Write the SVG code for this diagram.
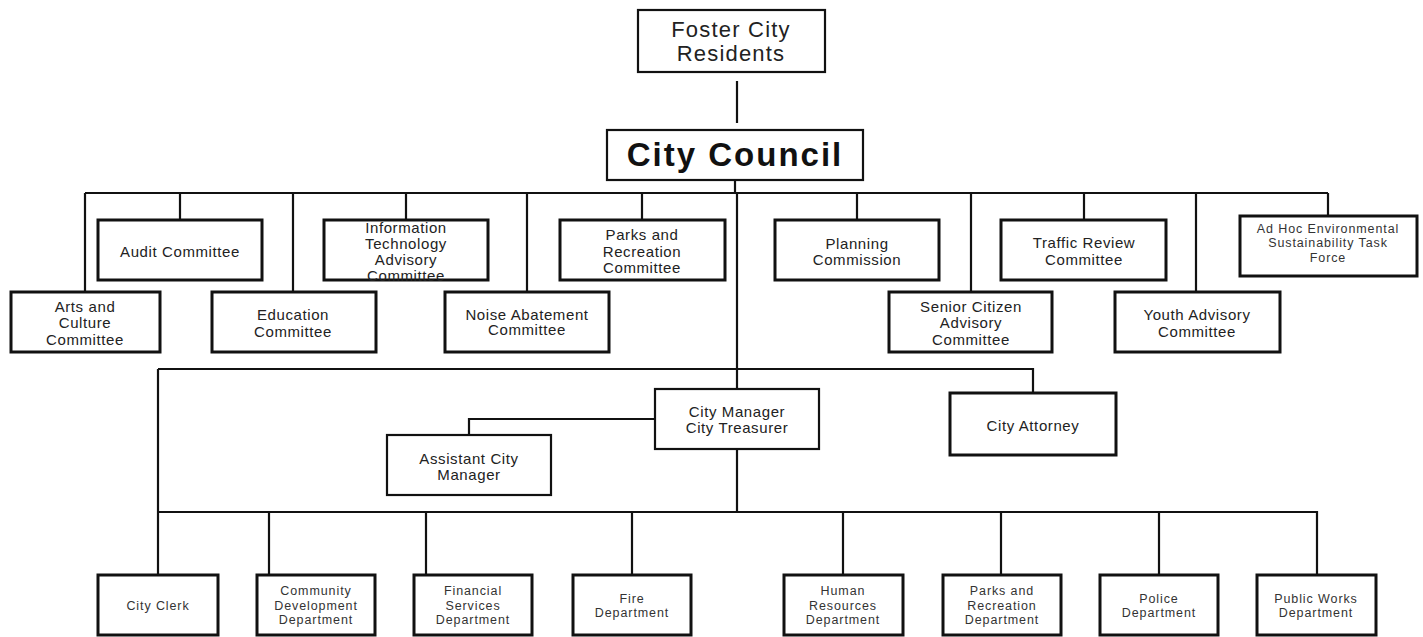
<svg xmlns="http://www.w3.org/2000/svg" width="1423" height="637" viewBox="0 0 1423 637">
<style>
.b{fill:#fff;stroke:#111;stroke-width:3}
.bt{fill:#fff;stroke:#111;stroke-width:2.2}
.c{fill:none;stroke:#111;stroke-width:2.2}
text{font-family:"Liberation Sans",Arial,sans-serif;text-anchor:middle;dominant-baseline:central}
.t{font-size:15px;letter-spacing:0.6px;fill:#222}
.s{font-size:12.5px;letter-spacing:0.9px;fill:#333}
.top{font-size:22px;letter-spacing:1.2px;fill:#222}
.cc{font-size:33px;font-weight:bold;letter-spacing:2px;fill:#111}
</style>
<rect width="1423" height="637" fill="#fff"/>
<g id="connectors">
<path class="c" d="M737 81V123"/>
<path class="c" d="M735 180V193"/>
<path class="c" d="M85 193H1328"/>
<path class="c" d="M180 193V219M406 193V219M642 193V219M857 193V219M1084 193V219M1328 193V215"/>
<path class="c" d="M85 193V291M293 193V291M527 193V291M971 193V291M1196 193V291"/>
<path class="c" d="M737 193V388"/>
<path class="c" d="M158 369H1033V392"/>
<path class="c" d="M654 419H469V434"/>
<path class="c" d="M737 450V512"/>
<path class="c" d="M158 369V574"/>
<path class="c" d="M158 512H1317V574"/>
<path class="c" d="M269 512V574M426 512V574M632 512V574M843 512V574M1001 512V574M1159 512V574"/>
</g>
<g id="residents"><rect class="bt" x="638" y="10" width="187" height="62"/><text class="top" x="731" y="29">Foster City</text><text class="top" x="731" y="53">Residents</text></g>
<g id="council"><rect class="bt" x="607" y="130" width="256" height="50"/><text class="cc" x="735" y="154">City Council</text></g>
<g id="audit"><rect class="b" x="98" y="220" width="164" height="60"/><text class="t" x="180" y="251">Audit Committee</text></g>
<g id="it"><rect class="b" x="324" y="220" width="164" height="60"/><text class="t" x="406" y="227">Information</text><text class="t" x="406" y="243">Technology</text><text class="t" x="406" y="259">Advisory</text><text class="t" x="406" y="275">Committee</text></g>
<g id="parks-committee"><rect class="b" x="560" y="220" width="165" height="60"/><text class="t" x="642" y="234">Parks and</text><text class="t" x="642" y="251">Recreation</text><text class="t" x="642" y="267">Committee</text></g>
<g id="planning"><rect class="b" x="775" y="220" width="164" height="60"/><text class="t" x="857" y="243">Planning</text><text class="t" x="857" y="259">Commission</text></g>
<g id="traffic"><rect class="b" x="1001" y="220" width="165" height="60"/><text class="t" x="1084" y="242">Traffic Review</text><text class="t" x="1084" y="259">Committee</text></g>
<g id="adhoc"><rect class="b" x="1240" y="216" width="177" height="60"/><text class="s" x="1328" y="229">Ad Hoc Environmental</text><text class="s" x="1328" y="243">Sustainability Task</text><text class="s" x="1328" y="258">Force</text></g>
<g id="arts"><rect class="b" x="11" y="292" width="149" height="60"/><text class="t" x="85" y="306">Arts and</text><text class="t" x="85" y="322">Culture</text><text class="t" x="85" y="339">Committee</text></g>
<g id="education"><rect class="b" x="212" y="292" width="164" height="60"/><text class="t" x="293" y="314">Education</text><text class="t" x="293" y="331">Committee</text></g>
<g id="noise"><rect class="b" x="445" y="292" width="164" height="60"/><text class="t" x="527" y="314">Noise Abatement</text><text class="t" x="527" y="329">Committee</text></g>
<g id="senior"><rect class="b" x="889" y="292" width="163" height="60"/><text class="t" x="971" y="306">Senior Citizen</text><text class="t" x="971" y="322">Advisory</text><text class="t" x="971" y="339">Committee</text></g>
<g id="youth"><rect class="b" x="1115" y="292" width="165" height="60"/><text class="t" x="1197" y="314">Youth Advisory</text><text class="t" x="1197" y="331">Committee</text></g>
<g id="manager"><rect class="bt" x="655" y="389" width="164" height="60"/><text class="t" x="737" y="411">City Manager</text><text class="t" x="737" y="427">City Treasurer</text></g>
<g id="assistant"><rect class="bt" x="387" y="435" width="164" height="60"/><text class="t" x="469" y="458">Assistant City</text><text class="t" x="469" y="474">Manager</text></g>
<g id="attorney"><rect class="b" x="950" y="393" width="166" height="62"/><text class="t" x="1033" y="425">City Attorney</text></g>
<g id="clerk"><rect class="b" x="98" y="575" width="120" height="60"/><text class="s" x="158" y="606">City Clerk</text></g>
<g id="community"><rect class="b" x="257" y="575" width="118" height="60"/><text class="s" x="316" y="591">Community</text><text class="s" x="316" y="606">Development</text><text class="s" x="316" y="620">Department</text></g>
<g id="financial"><rect class="b" x="414" y="575" width="118" height="60"/><text class="s" x="473" y="591">Financial</text><text class="s" x="473" y="606">Services</text><text class="s" x="473" y="620">Department</text></g>
<g id="fire"><rect class="b" x="573" y="575" width="118" height="60"/><text class="s" x="632" y="599">Fire</text><text class="s" x="632" y="613">Department</text></g>
<g id="hr"><rect class="b" x="784" y="575" width="119" height="60"/><text class="s" x="843" y="591">Human</text><text class="s" x="843" y="606">Resources</text><text class="s" x="843" y="620">Department</text></g>
<g id="parks-dept"><rect class="b" x="943" y="575" width="118" height="60"/><text class="s" x="1002" y="591">Parks and</text><text class="s" x="1002" y="606">Recreation</text><text class="s" x="1002" y="620">Department</text></g>
<g id="police"><rect class="b" x="1100" y="575" width="118" height="60"/><text class="s" x="1159" y="599">Police</text><text class="s" x="1159" y="613">Department</text></g>
<g id="publicworks"><rect class="b" x="1257" y="575" width="119" height="60"/><text class="s" x="1316" y="599">Public Works</text><text class="s" x="1316" y="613">Department</text></g>
</svg>
